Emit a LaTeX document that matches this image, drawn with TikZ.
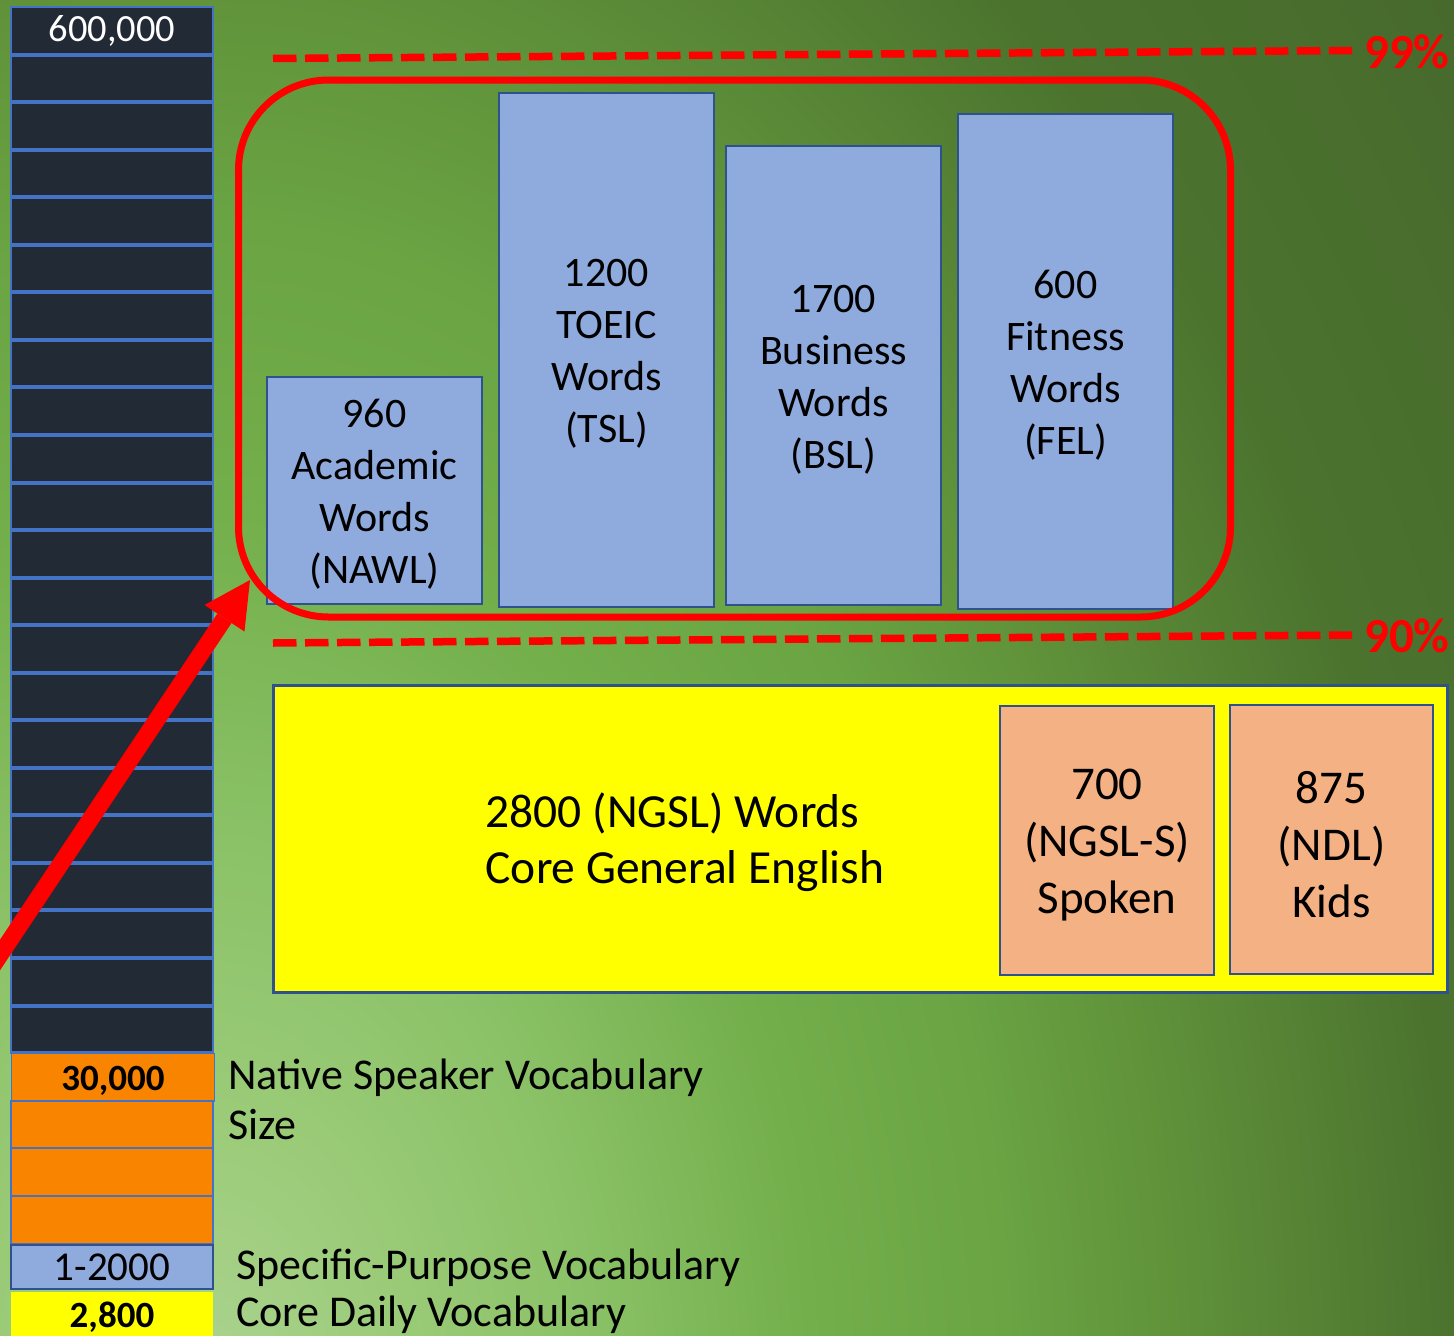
\documentclass[tikz,border=0pt]{standalone}
\usepackage{fontspec}
\setmainfont{Carlito}
\usetikzlibrary{arrows.meta}

% palette
\definecolor{celldark}{RGB}{34,42,53}
\definecolor{cellblue}{RGB}{68,114,196}
\definecolor{boxedge}{RGB}{47,82,143}
\definecolor{boxblue}{RGB}{143,170,220}
\definecolor{boxpeach}{RGB}{244,177,131}
\definecolor{cellorange}{RGB}{248,132,0}
\definecolor{markred}{RGB}{255,0,0}
\definecolor{coreyellow}{RGB}{255,255,0}
% background glow, from the light lower-left towards the dark upper-right
\definecolor{g0}{RGB}{172,212,145}
\definecolor{g1}{RGB}{155,203,120}
\definecolor{g2}{RGB}{138,193,102}
\definecolor{g3}{RGB}{115,175,75}
\definecolor{g4}{RGB}{106,164,67}
\definecolor{g5}{RGB}{97,148,59}
\definecolor{g6}{RGB}{75,115,46}
\definecolor{g7}{RGB}{70,104,44}
% the inner 25bp radius spans the shaded path's bounding box
\pgfdeclareradialshading{bgglow}{\pgfpoint{0bp}{0bp}}{%
  color(0bp)=(g0); color(3bp)=(g1); color(6bp)=(g2); color(9.25bp)=(g3);
  color(12.25bp)=(g4); color(14.5bp)=(g5); color(19bp)=(g6); color(25bp)=(g7);
  color(50bp)=(g7)}

\tikzset{
  darkcell/.style={draw=cellblue, fill=celldark, line width=1.2pt,
    minimum width=202pt, minimum height=47.55pt, inner sep=0pt, outer sep=0pt},
  sepline/.style={draw=cellblue, line width=4pt},
  orangecell/.style={draw=cellblue, fill=cellorange, line width=1.2pt,
    minimum width=202pt, minimum height=47.5pt, inner sep=0pt, outer sep=0pt},
  colfont/.style={font=\fontsize{38.5}{44}\selectfont},
  colbold/.style={font=\bfseries\fontsize{37}{44}\selectfont},
  listbox/.style={draw=boxedge, fill=boxblue, line width=2.6pt, inner sep=0pt,
    outer sep=0pt, minimum width=215pt},
  listtext/.style={align=center, inner sep=0pt, yshift=-4pt,
    font=\fontsize{42}{52}\selectfont},
  peachbox/.style={draw=boxedge, fill=boxpeach, line width=2.6pt, inner sep=0pt,
    outer sep=0pt},
  peachtext/.style={align=center, inner sep=0pt, yshift=-5pt,
    font=\fontsize{47}{57}\selectfont},
  corebox/.style={draw=boxedge, fill=coreyellow, line width=3pt, inner sep=0pt,
    outer sep=0pt},
  redframe/.style={draw=markred, line width=7pt, rounded corners=90pt,
    inner sep=0pt, outer sep=0pt},
  cutline/.style={draw=markred, line width=7.5pt, dash pattern=on 23.5pt off 8.5pt},
  pctlabel/.style={text=markred, font=\bfseries\fontsize{49}{56}\selectfont,
    inner sep=0pt, anchor=base west},
  sidelabel/.style={font=\fontsize{44}{50}\selectfont, inner sep=0pt,
    anchor=base west},
  bigarrow/.style={draw=markred, line width=17pt,
    -{Triangle[length=46pt, width=48pt, line width=0pt]}},
}

\begin{document}
\begin{tikzpicture}[x=1pt, y=-1pt]
\useasboundingbox (0,0) rectangle (1454,1336);
\clip (0,0) rectangle (1454,1336);

% background
\fill[g7] (0,0) rectangle (1454,1336);
\shade[shading=bgglow] (200,1400) ellipse [x radius=1650, y radius=2400];

% vocabulary column: dark cells
\node[darkcell, text=white, colfont] (dk1) at (112,30.775) {600,000};
\foreach \i in {2,...,22}
  \node[darkcell] (dk\i) at (112,{7+47.55*\i-23.775}) {};
\foreach \i in {1,...,22}
  \draw[sepline] (dk\i.south west) -- (dk\i.south east);

% orange cells
\node[orangecell, minimum width=203pt] (or1) at (113,1077) {};
\node[colbold, inner sep=0pt] (or1t) at (113,1081) {30,000};
\node[orangecell] (or2) at (112,1124.5) {};
\node[orangecell] (or3) at (112,1172) {};
\node[orangecell] (or4) at (112,1219.5) {};
\foreach \i in {1,2,3}
  \draw[draw=cellblue, line width=2.2pt] (or\i.south west) -- (or\i.south east);

% specific-purpose and core cells
\node[draw=boxedge, fill=boxblue, line width=2.6pt, minimum width=202pt,
  minimum height=44pt, inner sep=0pt, outer sep=0pt,
  font=\fontsize{41}{46}\selectfont] (sp) at (112,1267) {1-2000};
\node[fill=coreyellow, minimum width=202pt, minimum height=50pt, inner sep=0pt,
  outer sep=0pt, colbold] (cd) at (112,1317) {2,800};

% column labels
\node[sidelabel] (nsv) at (228,1089)
  {\begin{tabular}[t]{@{}l@{}}Native Speaker Vocabulary\\Size\end{tabular}};
\node[sidelabel] (spv) at (236,1279) {Specific-Purpose Vocabulary};
\node[sidelabel] (cdv) at (236,1326) {Core Daily Vocabulary};

% coverage thresholds
\coordinate (t99a) at (273,58.5);
\coordinate (t99b) at (1352,50.5);
\coordinate (t90a) at (273,643);
\coordinate (t90b) at (1352,635);
\draw[cutline] (t99a) -- (t99b);
\draw[cutline] (t90a) -- (t90b);
\node[pctlabel] (p99) at (1364,68) {99\%};
\node[pctlabel] (p90) at (1364,652.5) {90\%};

% specialised word lists
\node[listbox, minimum height=227pt] (nawl) at (374.5,490.5) {};
\node[listbox, minimum height=514pt] (tsl) at (606.5,350) {};
\node[listbox, minimum height=459pt] (bsl) at (833.5,375.5) {};
\node[listbox, minimum height=495pt] (fel) at (1065.5,361.5) {};
\node[listtext] (nawlt) at (nawl) {960\\Academic\\Words\\(NAWL)};
\node[listtext] (tslt) at (tsl) {1200\\TOEIC\\Words\\(TSL)};
\node[listtext] (bslt) at (bsl) {1700\\Business\\Words\\(BSL)};
\node[listtext] (felt) at (fel) {600\\Fitness\\Words\\(FEL)};

% frame round the specialised lists
\node[redframe, minimum width=992pt, minimum height=537pt] (frame) at (734.5,348.5) {};

% core general English
\node[corebox, minimum width=1174pt, minimum height=307pt] (core) at (860,838.5) {};
\node[align=left, inner sep=0pt, font=\fontsize{47.5}{56}\selectfont] (coretext)
  at (685,842) {2800 (NGSL) Words\\Core General English};
\node[peachbox, minimum width=214pt, minimum height=269pt] (ngsls) at (1107,840.5) {};
\node[peachbox, minimum width=203pt, minimum height=269pt] (ndl) at (1331.5,839.5) {};
\node[peachtext] (ngslst) at (ngsls) {700\\(NGSL-S)\\Spoken};
\node[peachtext] (ndlt) at (ndl) {875\\(NDL)\\Kids};

% arrow from the column up to the framed lists
\coordinate (arrowstart) at (-40,1015);
\coordinate (arrowtip) at (250,580);
\draw[bigarrow] (arrowstart) -- (arrowtip);
\end{tikzpicture}
\end{document}
